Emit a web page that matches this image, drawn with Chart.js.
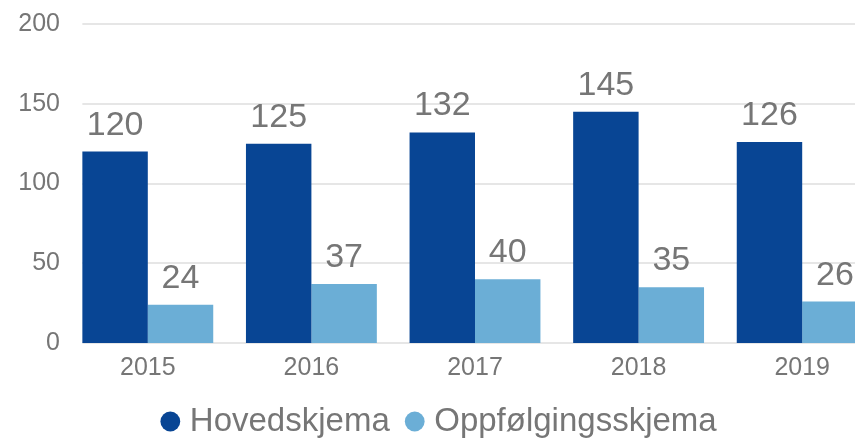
<!DOCTYPE html>
<html>
<head>
<meta charset="utf-8">
<script src="https://cdn.jsdelivr.net/npm/chart.js@4.4.1/dist/chart.umd.min.js"></script>
<style>
  html, body { margin: 0; padding: 0; background: #fff; overflow: hidden; }
  #wrap { width: 884px; height: 439px; position: relative; }
</style>
</head>
<body>
<div id="wrap"><canvas id="skjemaChart"></canvas></div>
<script>
// data
const years = ['2015', '2016', '2017', '2018', '2019'];
const hovedskjema = [120, 125, 132, 145, 126];
const oppfolging = [24, 37, 40, 35, 26];
const yTicks = [0, 50, 100, 150, 200];

const DARK = '#084594';
const LIGHT = '#6baed6';
const GREY = '#767676';
const FONT = "'Liberation Sans', Arial, sans-serif";

// gridlines start at the left edge of the first bar (like the excel export)
const gridPlugin = {
  id: 'gridFromBars',
  beforeDatasetsDraw(chart) {
    const ctx = chart.ctx;
    const y = chart.scales.y;
    const first = chart.getDatasetMeta(0).data[0];
    const x0 = first.x - first.width / 2;
    ctx.save();
    ctx.strokeStyle = '#e6e6e6';
    ctx.lineWidth = 2;
    yTicks.forEach(v => {
      const py = Math.round(y.getPixelForValue(v));
      ctx.beginPath();
      ctx.moveTo(x0, py);
      ctx.lineTo(chart.width, py);
      ctx.stroke();
    });
    ctx.restore();
  }
};

// value labels over the bars
const labelPlugin = {
  id: 'barValues',
  afterDatasetsDraw(chart) {
    const ctx = chart.ctx;
    ctx.save();
    ctx.fillStyle = GREY;
    ctx.font = '34px ' + FONT;
    ctx.textAlign = 'center';
    ctx.textBaseline = 'alphabetic';
    chart.data.datasets.forEach((ds, i) => {
      chart.getDatasetMeta(i).data.forEach((bar, j) => {
        ctx.fillText(ds.data[j], bar.x, bar.y - 17);
      });
    });
    ctx.restore();
  }
};

const ctx = document.getElementById('skjemaChart').getContext('2d');
new Chart(ctx, {
  type: 'bar',
  data: {
    labels: years,
    datasets: [
      { label: 'Hovedskjema', data: hovedskjema, backgroundColor: DARK },
      { label: 'Oppfølgingsskjema', data: oppfolging, backgroundColor: LIGHT }
    ]
  },
  options: {
    responsive: true,
    maintainAspectRatio: false,
    animation: false,
    datasets: { bar: { categoryPercentage: 0.8, barPercentage: 1.0 } },
    layout: { padding: { top: 24, left: 0, right: 0, bottom: -9 } },
    scales: {
      x: {
        grid: { display: false, drawTicks: false },
        border: { display: false },
        ticks: { color: GREY, font: { family: FONT, size: 25 }, padding: 10 },
        afterFit(scale) { scale.height = 40; }
      },
      y: {
        min: 0,
        max: 200,
        grid: { display: false, drawTicks: false },
        border: { display: false },
        ticks: { stepSize: 50, color: GREY, font: { family: FONT, size: 25 }, padding: 6 },
        afterFit(scale) { scale.width = 66; }
      }
    },
    plugins: {
      tooltip: { enabled: false },
      legend: {
        position: 'bottom',
        labels: {
          usePointStyle: true,
          pointStyle: 'circle',
          boxWidth: 6,
          boxHeight: 14,
          padding: 22,
          color: GREY,
          font: { family: FONT, size: 33 }
        }
      }
    }
  },
  plugins: [gridPlugin, labelPlugin]
});
</script>
</body>
</html>
